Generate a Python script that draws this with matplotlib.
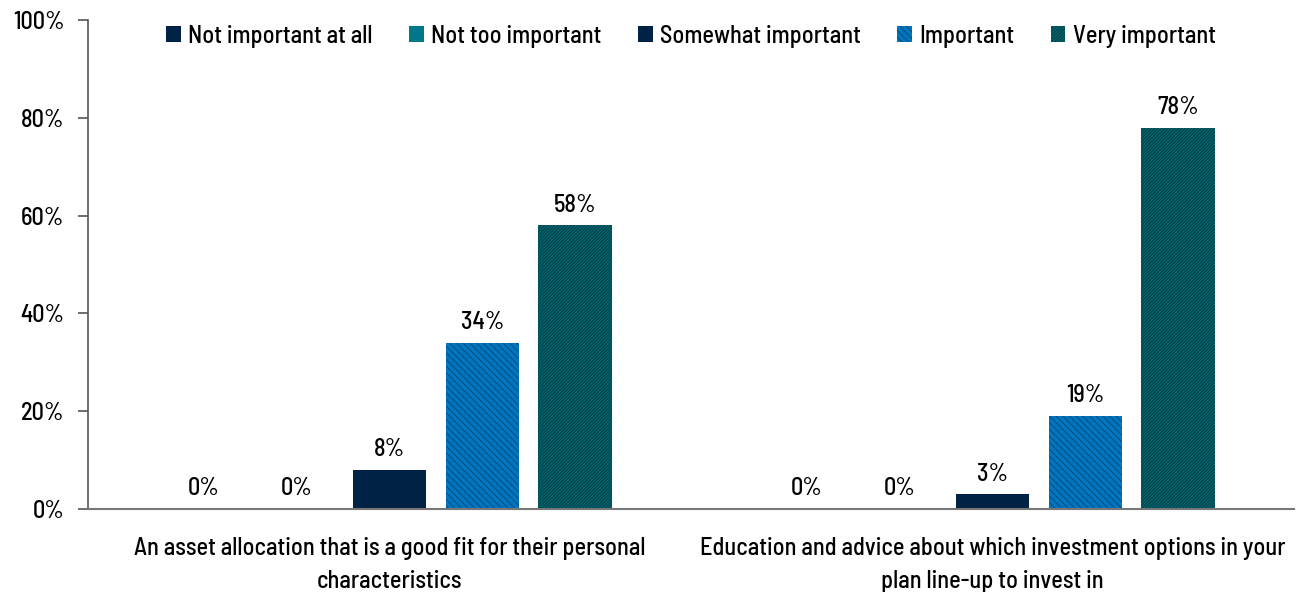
import matplotlib.pyplot as plt
import numpy as np
from matplotlib.ticker import FuncFormatter

categories = ["An asset allocation that is a good fit for their personal\ncharacteristics",
              "Education and advice about which investment options in your\nplan line-up to invest in"]
series = ["Not important at all", "Not too important", "Somewhat important", "Important", "Very important"]
values = [
    [0, 0],    # Not important at all
    [0, 0],    # Not too important
    [8, 3],    # Somewhat important
    [34, 19],  # Important
    [58, 78],  # Very important
]
colors = ["#002244", "#00778B", "#002244", "#0076C0", "#00646E"]
hatches = [None, None, None, "\\\\\\\\\\", "//////////"]
hatch_colors = ["#002244", "#00778B", "#002244", "#0B3A5E", "#0A2F36"]

plt.rcParams['font.family'] = ['Barlow Semi Condensed', 'DejaVu Sans']
plt.rcParams['font.weight'] = 'medium'
plt.rcParams['hatch.linewidth'] = 0.5
fs = 17.5

fig = plt.figure(figsize=(12.96, 5.92), dpi=100)
ax = fig.add_axes([88 / 1296, 1 - 509 / 592, 1206 / 1296, 489 / 592])

x = np.arange(len(categories))
width = 0.122
step = 0.154
for i, name in enumerate(series):
    pos = x + (i - 2) * step
    ax.bar(pos, values[i], width, color=colors[i], label=name,
           hatch=hatches[i], edgecolor=hatch_colors[i], linewidth=0)
    for p, v in zip(pos, values[i]):
        ax.text(p, v + 1.8, f"{v}%", ha='center', va='bottom', fontsize=fs)

ax.set_xlim(-0.5, 1.5)
ax.set_ylim(0, 100)
ax.set_yticks(np.arange(0, 101, 20))
ax.yaxis.set_major_formatter(FuncFormatter(lambda v, _: f"{int(v)}%"))
ax.set_xticks(x)
ax.set_xticklabels(categories, fontsize=fs, linespacing=1.55)
ax.tick_params(axis='x', length=0, pad=20)
ax.tick_params(axis='y', labelsize=fs, length=7, direction='out', color='#555555', width=1.2, pad=10)
for s in ['top', 'right']:
    ax.spines[s].set_visible(False)
ax.spines['left'].set_color('#555555')
ax.spines['bottom'].set_color('#777777')
ax.spines['left'].set_linewidth(1.2)
ax.spines['bottom'].set_linewidth(1.5)

ax.legend(loc='upper center', bbox_to_anchor=(0.5, 1.035), ncol=5, frameon=False,
          fontsize=fs, handlelength=0.6, handleheight=0.6, handletextpad=0.3, columnspacing=1.5)

plt.savefig("out.png", format='png')
plt.close()
